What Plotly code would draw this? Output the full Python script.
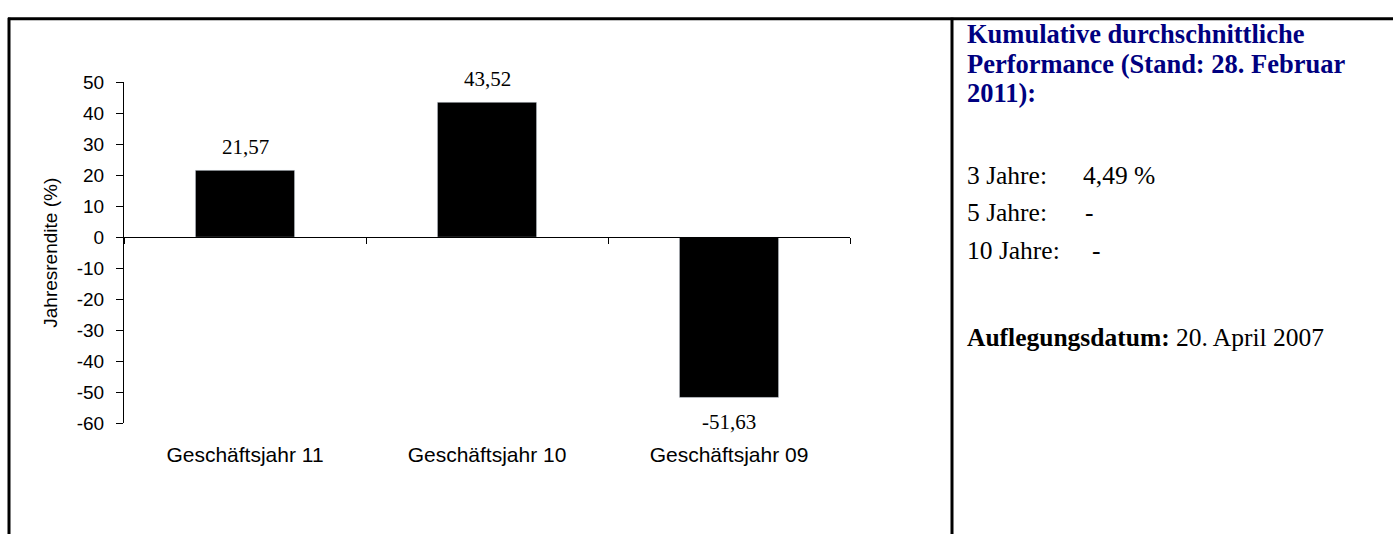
import plotly.graph_objects as go

categories = ["Geschäftsjahr 11", "Geschäftsjahr 10", "Geschäftsjahr 09"]
returns = [21.57, 43.52, -51.63]
return_labels = ["21,57", "43,52", "-51,63"]
y_ticks = [50, 40, 30, 20, 10, 0, -10, -20, -30, -40, -50, -60]
y_tick_text = ["50", "40", "30", "20", "10", "0", "-10", "-20", "-30", "-40", "-50", "-60"]

perf_title_lines = ["Kumulative durchschnittliche", "Performance (Stand: 28. Februar", "2011):"]
perf_periods = ["3 Jahre:", "5 Jahre:", "10 Jahre:"]
perf_values = ["4,49 %", "-", "-"]
launch_label = "Auflegungsdatum:"
launch_date = "20. April 2007"

W, H = 1393, 545
def px(x):
    return x / W
def py(y):
    return 1 - y / H

fig = go.Figure()
fig.add_trace(go.Bar(
    x=categories, y=returns, marker=dict(color="black", line=dict(width=0)),
    width=0.41, hoverinfo="skip", showlegend=False,
))
# invisible copy on the zero-line axis so its boundary ticks render
fig.add_trace(go.Bar(
    x=categories, y=returns, xaxis="x2", marker=dict(color="rgba(0,0,0,0)"),
    width=0.41, hoverinfo="skip", showlegend=False,
))

for c, v, t in zip(categories, returns, return_labels):
    fig.add_annotation(x=c, y=v, text=t, showarrow=False,
                       yshift=23 if v >= 0 else -25,
                       font=dict(family="Liberation Serif", size=21, color="black"))

zero_pos = py(236)

fig.update_layout(
    autosize=True,
    margin=dict(l=0, r=0, t=0, b=0, pad=0),
    plot_bgcolor="white", paper_bgcolor="white",
    xaxis=dict(
        domain=[px(124), px(850)], anchor="y", type="category",
        categoryarray=categories, range=[-0.5, 2.5],
        showline=False, showgrid=False, zeroline=False,
        ticks="outside", ticklen=12, tickcolor="rgba(0,0,0,0)",
        tickfont=dict(family="Liberation Sans", size=21, color="black"),
    ),
    xaxis2=dict(
        domain=[px(124), px(850)], anchor="free", position=zero_pos,
        overlaying="x", type="category", categoryarray=categories,
        range=[-0.5, 2.5], showline=True, linecolor="black", linewidth=1,
        ticks="outside", tickson="boundaries", ticklen=6, tickcolor="black",
        showticklabels=False, showgrid=False, zeroline=False,
    ),
    yaxis=dict(
        domain=[py(430), py(75)], range=[-60, 50],
        tickvals=y_ticks, ticktext=y_tick_text,
        ticks="outside", ticklen=7, tickcolor="black", ticklabelstandoff=8,
        showline=True, linecolor="black", linewidth=1,
        showgrid=False, zeroline=False,
        tickfont=dict(family="Liberation Sans", size=19, color="black"),
        title=dict(text="Jahresrendite (%)", standoff=14,
                   font=dict(family="Liberation Sans", size=19, color="black")),
    ),
)

# frame lines
line = dict(color="black", width=3)
fig.add_shape(type="line", xref="paper", yref="paper", x0=px(8), x1=1, y0=py(9), y1=py(9), line=line)
fig.add_shape(type="line", xref="paper", yref="paper", x0=px(9), x1=px(9), y0=py(8), y1=0, line=line)
fig.add_shape(type="line", xref="paper", yref="paper", x0=px(952), x1=px(952), y0=py(8), y1=0, line=line)

# right panel text
tx = px(965)
for txt, yy in zip(perf_title_lines, [25, 56, 86]):
    fig.add_annotation(xref="paper", yref="paper", x=tx, y=py(yy), xanchor="left", yanchor="middle",
                       showarrow=False, text="<b>" + txt + "</b>",
                       font=dict(family="Liberation Serif", size=26.5, color="#000080"))
period_y = [172, 211, 250]
value_x = [1081, 1083, 1090]
for lbl, val, yy, vx in zip(perf_periods, perf_values, period_y, value_x):
    fig.add_annotation(xref="paper", yref="paper", x=tx, y=py(yy), xanchor="left", yanchor="middle",
                       showarrow=False, text=lbl,
                       font=dict(family="Liberation Serif", size=25.5, color="black"))
    fig.add_annotation(xref="paper", yref="paper", x=px(vx), y=py(yy), xanchor="left", yanchor="middle",
                       showarrow=False, text=val,
                       font=dict(family="Liberation Serif", size=25.5, color="black"))
fig.add_annotation(xref="paper", yref="paper", x=tx, y=py(341), xanchor="left", yanchor="middle",
                   showarrow=False, text="<b>" + launch_label + "</b> " + launch_date,
                   font=dict(family="Liberation Serif", size=25.5, color="black"))

fig.write_html("out.html",
               default_width="100vw", default_height="100vh",
               config={"displayModeBar": False},
               post_script="document.body.style.margin='0';document.body.style.overflow='hidden';"
                           "window.dispatchEvent(new Event('resize'));")
